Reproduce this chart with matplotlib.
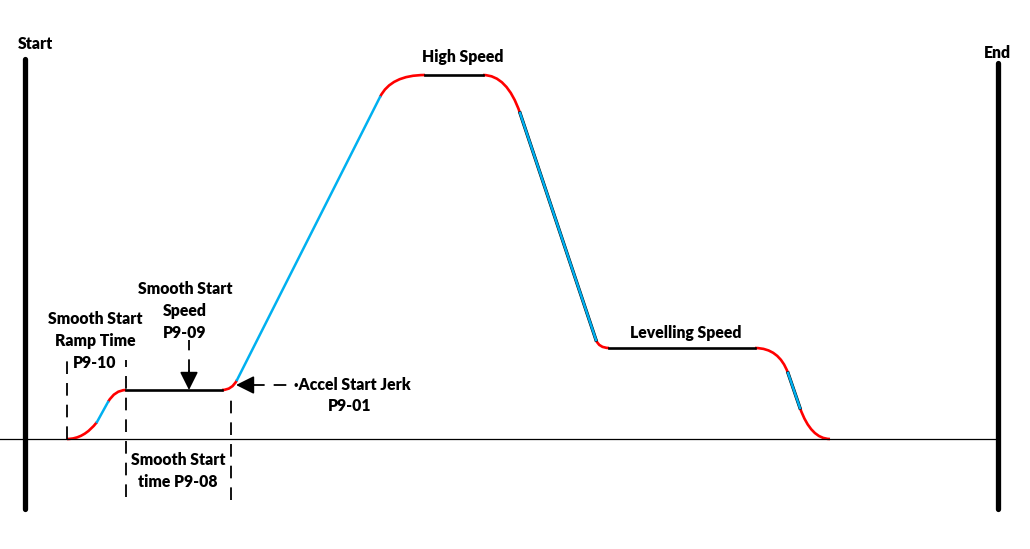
import matplotlib
matplotlib.use("Agg")
import matplotlib.pyplot as plt
from matplotlib.path import Path
from matplotlib.patches import PathPatch

# Speed profile knots (time, speed) in diagram units, baseline speed = 0
knot_t = [67, 97, 108, 126, 222, 237, 380, 425, 483, 520, 596, 609, 755, 788, 800, 830]
knot_v = [0, 17, 37, 49, 49, 59, 342, 364, 364, 326, 99, 91, 91, 66, 31, 0]
# segment between knot i and i+1: 'c' = S-curve (red), 'l' = ramp (blue), 'f' = constant speed (black)
seg_kind = ['c', 'l', 'c', 'f', 'c', 'l', 'c', 'f', 'c', 'l', 'c', 'f', 'c', 'l', 'c']
# bezier control points for the curved segments (None for straight ones)
ctrl_t = [84, None, 115, None, 232, None, 391, None, 507, None, 599, None, 779, None, 811]
ctrl_v = [0, None, 49, None, 49, None, 364, None, 364, None, 91, None, 91, None, 0]

RED = "#FF0000"
BLUE = "#00B0F0"

fig = plt.figure(figsize=(10.30, 5.49), dpi=100)
ax = fig.add_axes([0, 0, 1, 1])
ax.set_xlim(0, 1030)
ax.set_ylim(-110, 439)
ax.axis("off")

font = dict(family=["Lato", "DejaVu Sans"], fontweight="heavy", fontsize=11.3, color="black")

# baseline and start / end bars
ax.plot([0, 995], [0, 0], color="black", lw=0.9)
ax.plot([25, 25], [-70, 380], color="black", lw=3.8, solid_capstyle="round")
ax.plot([998, 998], [-70, 376], color="black", lw=3.8, solid_capstyle="round")
ax.text(35, 395, "Start", ha="center", va="center", **font)
ax.text(997, 386, "End", ha="center", va="center", **font)

# speed profile
for i, kind in enumerate(seg_kind):
    t0, v0, t1, v1 = knot_t[i], knot_v[i], knot_t[i + 1], knot_v[i + 1]
    if kind == 'c':
        p = Path([(t0, v0), (ctrl_t[i], ctrl_v[i]), (t1, v1)],
                 [Path.MOVETO, Path.CURVE3, Path.CURVE3])
        ax.add_patch(PathPatch(p, fill=False, edgecolor=RED, lw=1.9, capstyle="butt"))
    elif kind == 'l':
        if v1 < v0:
            ax.plot([t0, t1], [v0, v1], color="black", lw=2.4, zorder=2)
        ax.plot([t0, t1], [v0, v1], color=BLUE, lw=1.8, zorder=3)
    else:
        ax.plot([t0, t1], [v0, v1], color="black", lw=1.9, zorder=3)

# dashed markers
dash = dict(color="black", lw=1.3, linestyle=(0, (7, 5)))
ax.plot([67, 67], [0, 82], **dash)
ax.plot([126, 126], [-58, 79], **dash)
ax.plot([231, 231], [-61, 46], **dash)
ax.plot([189, 189], [67, 99], **dash)
ax.plot([252, 292], [54, 54], **dash)

arrow = dict(arrowstyle="-|>,head_length=1.1,head_width=0.55", color="black", lw=1.3,
             shrinkA=0, shrinkB=0)
ax.annotate("", xy=(189, 49), xytext=(189, 68), arrowprops=arrow)
ax.annotate("", xy=(236, 54), xytext=(253, 54), arrowprops=arrow)

# labels
ax.text(463, 382, "High Speed", ha="center", va="center", **font)
ax.text(686, 106, "Levelling Speed", ha="center", va="center", **font)
ax.text(95, 98, "Smooth Start\nRamp Time\nP9-10", ha="center", va="center", linespacing=1.5, **font)
ax.text(185, 128, "Smooth Start\nSpeed\nP9-09", ha="center", va="center", linespacing=1.5, **font)
ax.text(178, -32, "Smooth Start\ntime P9-08", ha="center", va="center", linespacing=1.5, **font)
ax.text(294, 54, "\u00b7Accel Start Jerk", ha="left", va="center", **font)
ax.text(350, 33, "P9-01", ha="center", va="center", **font)

fig.savefig("out.png", dpi=100)
